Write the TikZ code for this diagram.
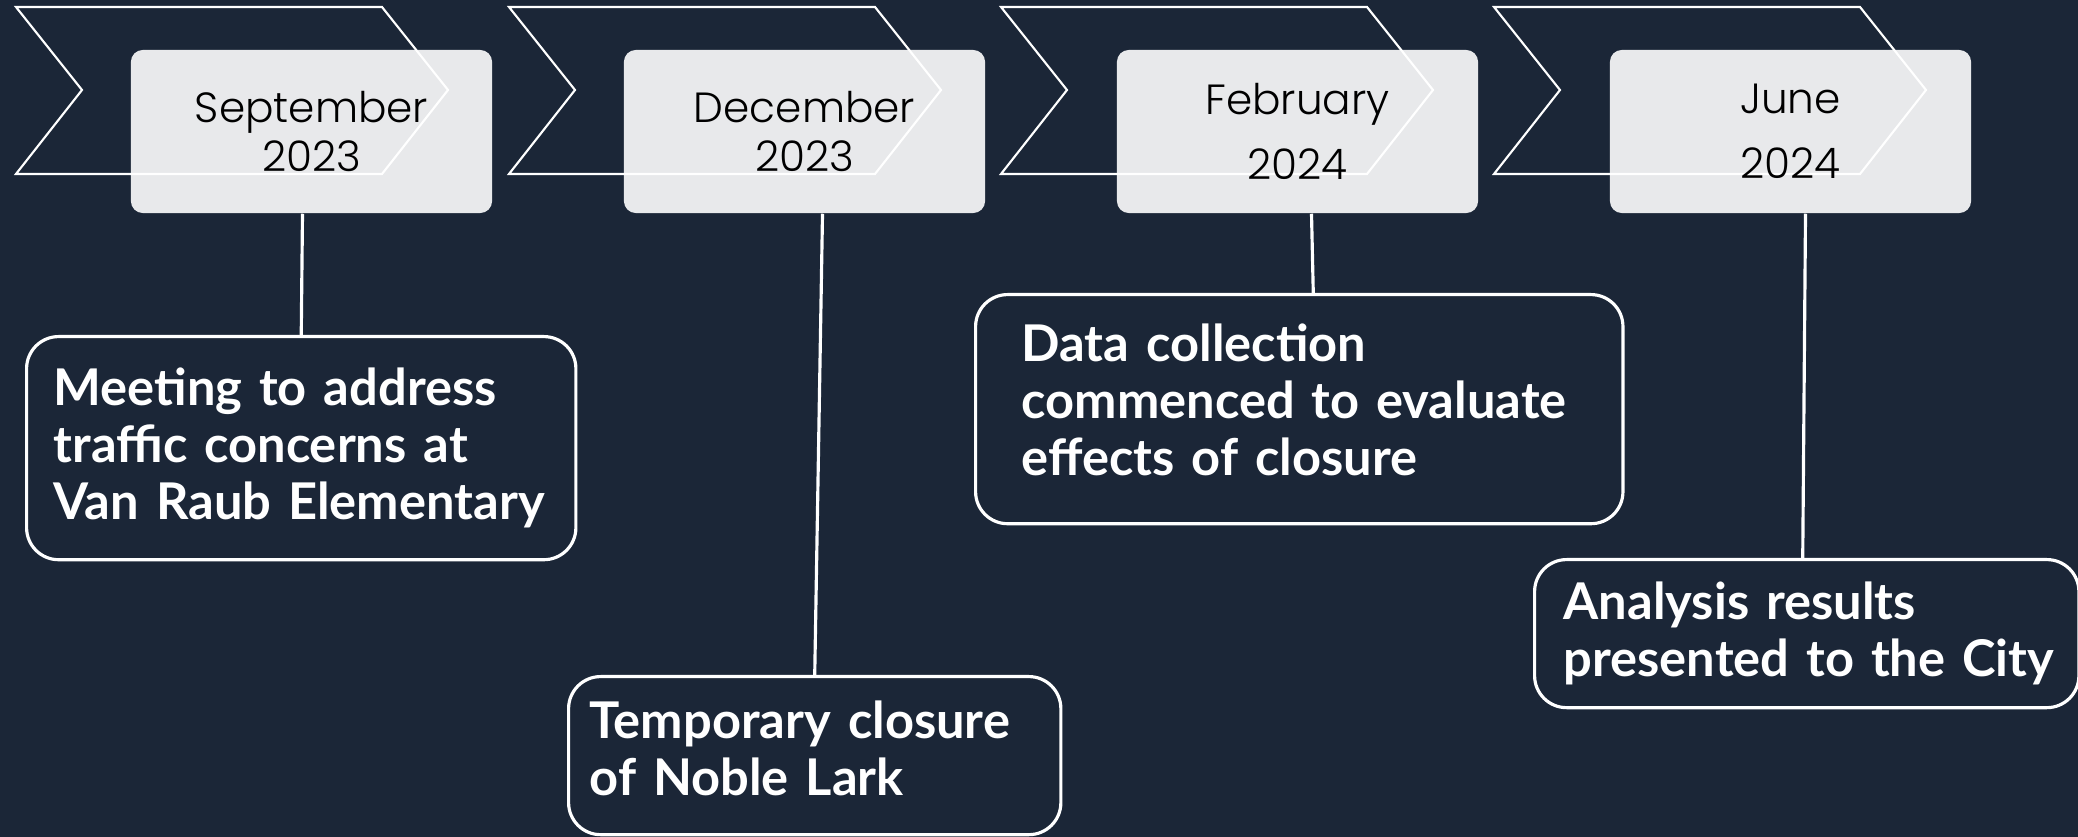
\documentclass[tikz,border=0pt]{standalone}
\usepackage{fontspec}
\setmainfont{Poppins}
\newfontfamily\eventfont{Lato}
\newfontfamily\datefont{Poppins Light}
\hyphenpenalty=10000
\definecolor{navy}{HTML}{1B2637}
\definecolor{card}{HTML}{E8E9EB}
\tikzset{
  datebox/.style={fill=card, rounded corners=0.12cm, minimum width=3.61cm,
    minimum height=1.63cm, align=center, text=black, inner sep=0pt},
  eventbox/.style={draw=white, line width=0.9pt, rounded corners=0.32cm,
    anchor=north west, align=left, text=white, inner ysep=0pt,
    font=\eventfont\fontsize{14.4}{16.2}\selectfont\bfseries},
  link/.style={draw=white, line width=0.9pt},
  chevron/.style={draw=white, line width=0.6pt}
}
\begin{document}
\begin{tikzpicture}[x=0.01cm, y=-0.01cm]
        % Background
        \useasboundingbox (0,0) rectangle (2078,837);
        \fill[navy] (0,0) rectangle (2078,837);

        % Date cards
        \node[datebox] (dt1) at (311.5,131.5) {};
        \node[datebox] (dt2) at (804.5,131.5) {};
        \node[datebox] (dt3) at (1297.5,131.5) {};
        \node[datebox] (dt4) at (1790.5,131.5) {};

        % Chevron outlines
        \draw[chevron] (16,7) -- (382,7) -- (448,90) -- (382,174) -- (16,174) -- (82,90) -- cycle;
        \draw[chevron] (509,7) -- (875,7) -- (941,90) -- (875,174) -- (509,174) -- (575,90) -- cycle;
        \draw[chevron] (1001,7) -- (1367,7) -- (1433,90) -- (1367,174) -- (1001,174) -- (1067,90) -- cycle;
        \draw[chevron] (1494,7) -- (1860,7) -- (1926,90) -- (1860,174) -- (1494,174) -- (1560,90) -- cycle;

        % Date text on top of the outlines
        \node[font=\datefont\fontsize{12}{13.7}\selectfont, align=center] (mo1) at (dt1) {September\\2023};
        \node[font=\datefont\fontsize{12}{13.7}\selectfont, align=center] (mo2) at (dt2) {December\\2023};
        \node[font=\datefont\fontsize{12}{18.5}\selectfont, align=center] (mo3) at (dt3) {February\\2024};
        \node[font=\datefont\fontsize{12}{18.5}\selectfont, align=center] (mo4) at (dt4) {June\\2024};

        % Events
        \node[eventbox, inner xsep=0.27cm, text width=4.95cm, minimum height=2.23cm] (ev1) at (25,335)
          {Meeting~to~address\\traffic~concerns~at\\Van~Raub~Elementary};
        \node[eventbox, inner xsep=0.21cm, text width=4.50cm, minimum height=1.58cm] (ev2) at (567,675)
          {Temporary~closure\\of~Noble~Lark\par\vspace{0.14cm}};
        \node[eventbox, inner xsep=0.46cm, text width=5.55cm, minimum height=2.29cm] (ev3) at (974,293)
          {Data~collection\\commenced~to~evaluate\\effects~of~closure\par\vspace{0.18cm}};
        \node[eventbox, inner xsep=0.29cm, text width=4.86cm, minimum height=1.48cm] (ev4) at (1533,558)
          {Analysis~results\\presented~to~the~City};

        % Connectors
        \draw[link] ([xshift=-0.09cm]dt1.south) -- (ev1.north);
        \draw[link] ([xshift=0.18cm]dt2.south) -- (ev2.north);
        \draw[link] ([xshift=0.14cm]dt3.south) -- ([xshift=0.14cm]ev3.north);
        \draw[link] ([xshift=0.15cm]dt4.south) -- ([xshift=-0.04cm]ev4.north);

    \end{tikzpicture}
\end{document}
